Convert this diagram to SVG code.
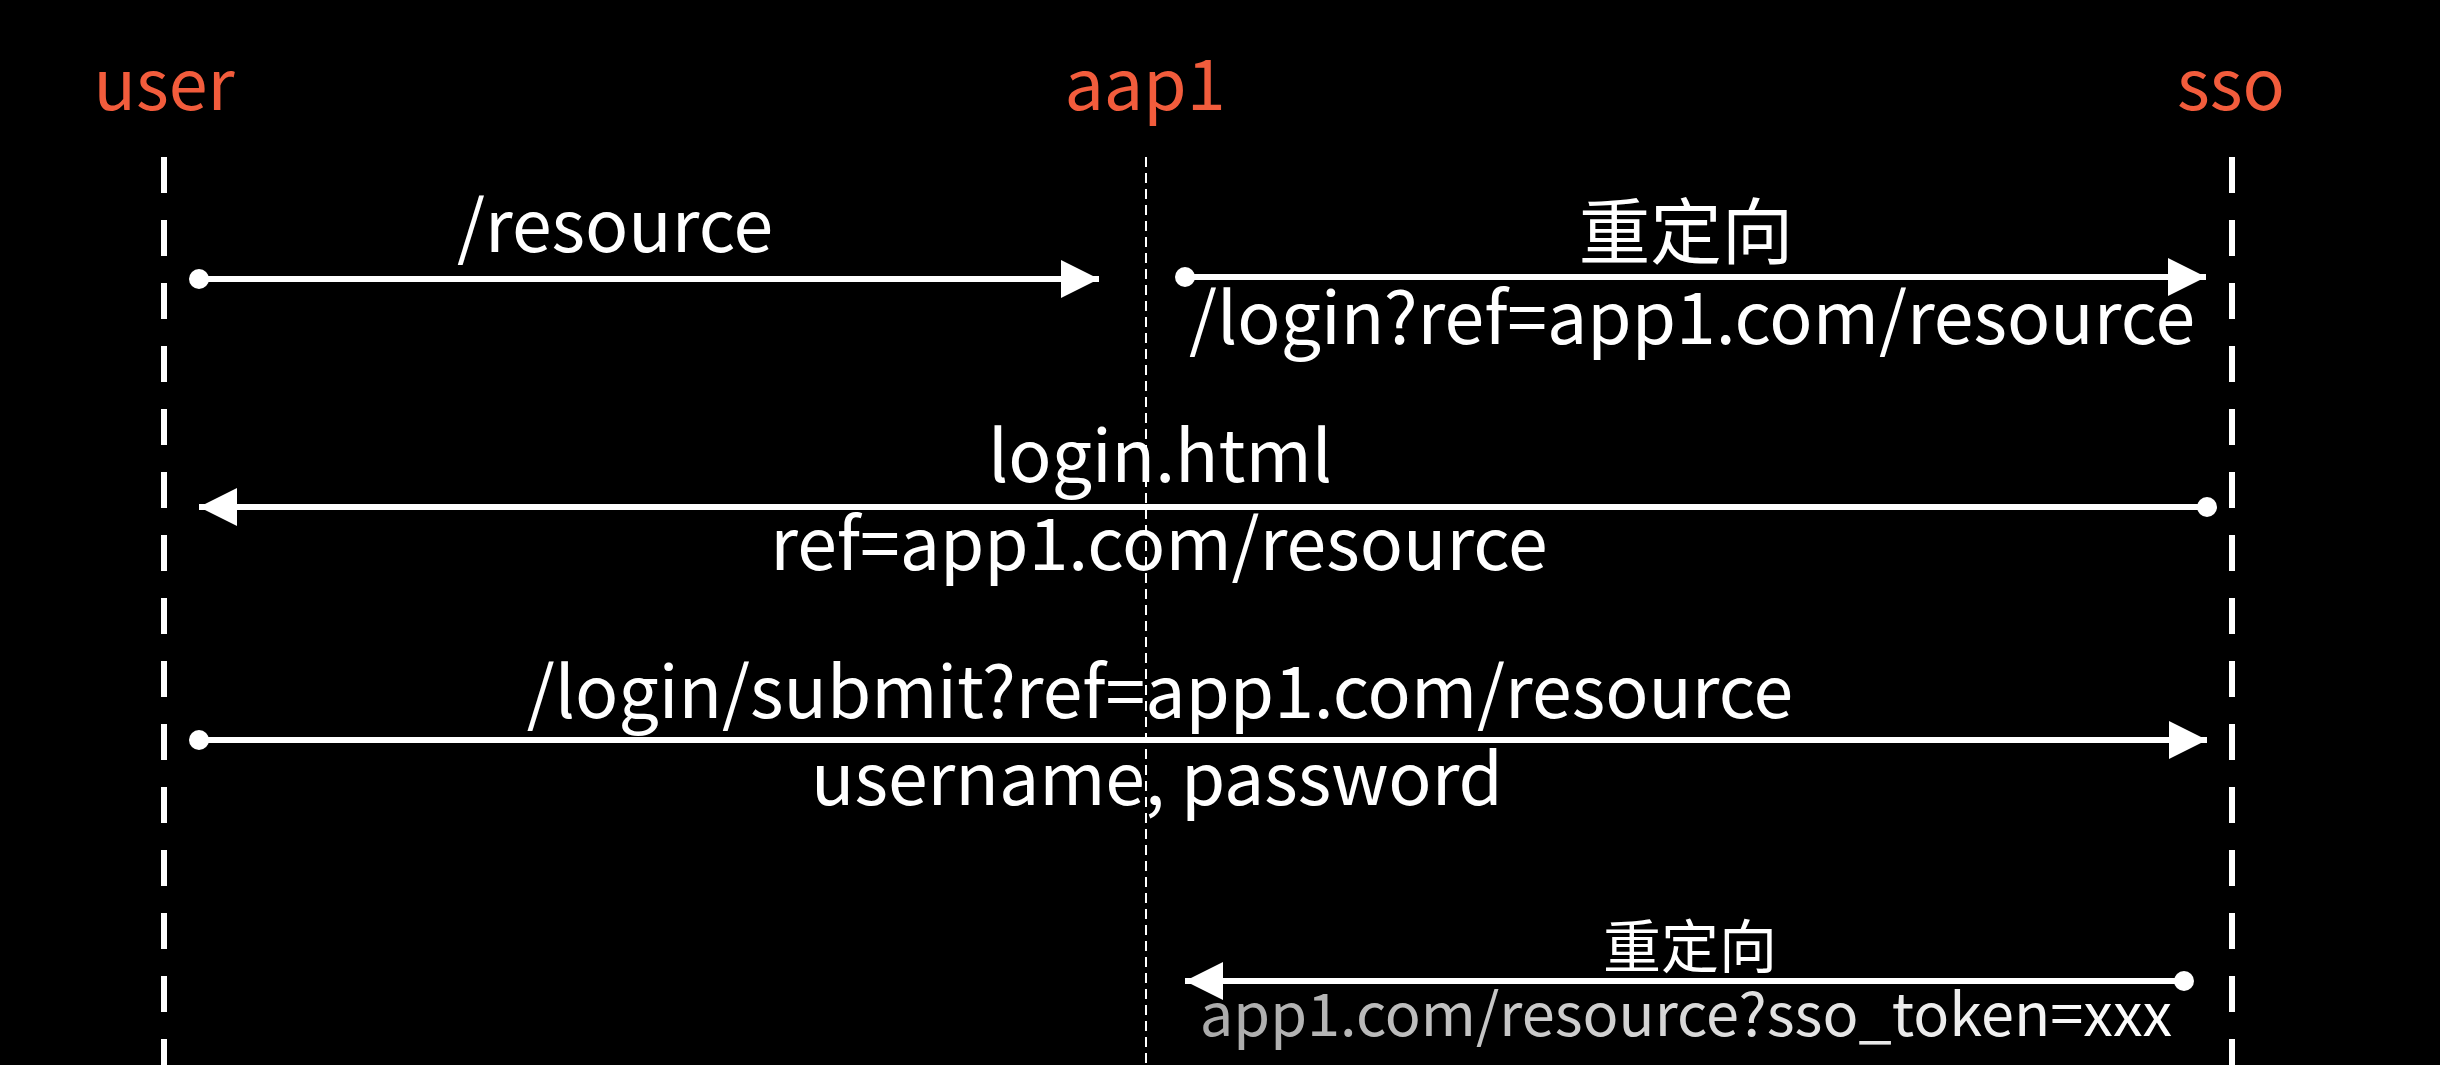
<svg xmlns="http://www.w3.org/2000/svg" width="2440" height="1065" viewBox="0 0 2440 1065">
<defs>
<style>
.title{font-family:"Noto Sans CJK SC","Noto Sans",sans-serif;font-size:70px;fill:#f25c3c;text-anchor:middle}
.lbl{font-family:"Noto Sans CJK SC","Noto Sans",sans-serif;font-size:71.5px;fill:#fff;text-anchor:middle}
.lbl2{font-family:"Noto Sans CJK SC","Noto Sans",sans-serif;font-size:58px;fill:#fff;text-anchor:middle}
.life{stroke:#fff;stroke-width:6;stroke-dasharray:36 27;fill:none}
.life-thin{stroke:#fff;stroke-width:2;stroke-dasharray:10 6;fill:none}
.msg{stroke:#fff;stroke-width:6;fill:none}
.dot{fill:#fff}
</style>
<marker id="arr" viewBox="0 0 38 38" refX="38" refY="19" markerWidth="38" markerHeight="38" markerUnits="userSpaceOnUse" orient="auto">
<path d="M0,0 L38,19 L0,38 Z" fill="#fff"/>
</marker>
<linearGradient id="fade" x1="1180" y1="0" x2="2170" y2="0" gradientUnits="userSpaceOnUse">
<stop offset="0" stop-color="#a8a8a8"/>
<stop offset="0.6" stop-color="#e0e0e0"/>
<stop offset="1" stop-color="#ffffff"/>
</linearGradient>
</defs>
<rect width="2440" height="1065" fill="#000"/>
<g id="user">
<text class="title" x="164" y="110">user</text>
<line class="life" x1="164" y1="157" x2="164" y2="1065"/>
</g>
<g id="aap1">
<text class="title" x="1145" y="110">aap1</text>
<line class="life-thin" x1="1146" y1="157" x2="1146" y2="1065"/>
</g>
<g id="sso">
<text class="title" x="2231" y="110">sso</text>
<line class="life" x1="2232" y1="157" x2="2232" y2="1065"/>
</g>
<g id="connectors">
<g id="m1">
<circle class="dot" cx="199" cy="279" r="10"/>
<line class="msg" x1="199" y1="279" x2="1099" y2="279" marker-end="url(#arr)"/>
<text class="lbl" x="615" y="252">/resource</text>
</g>
<g id="m2">
<circle class="dot" cx="1185" cy="277" r="10"/>
<line class="msg" x1="1185" y1="277" x2="2206" y2="277" marker-end="url(#arr)"/>
<text class="lbl" x="1686" y="258">重定向</text>
<text class="lbl" x="1692" y="344">/login?ref=app1.com/resource</text>
</g>
<g id="m3">
<circle class="dot" cx="2207" cy="507" r="10"/>
<line class="msg" x1="2207" y1="507" x2="199" y2="507" marker-end="url(#arr)"/>
<text class="lbl" x="1160" y="482">login.html</text>
<text class="lbl" x="1159" y="570">ref=app1.com/resource</text>
</g>
<g id="m4">
<circle class="dot" cx="199" cy="740" r="10"/>
<line class="msg" x1="199" y1="740" x2="2207" y2="740" marker-end="url(#arr)"/>
<text class="lbl" x="1160" y="718">/login/submit?ref=app1.com/resource</text>
<text class="lbl" x="1157" y="805">username, password</text>
</g>
<g id="m5">
<circle class="dot" cx="2184" cy="981" r="10"/>
<line class="msg" x1="2184" y1="981" x2="1185" y2="981" marker-end="url(#arr)"/>
<text class="lbl2" x="1690" y="968">重定向</text>
<text class="lbl2" x="1686" y="1036" style="fill:url(#fade);font-size:59.5px">app1.com/resource?sso_token=xxx</text>
</g>
</g>
</svg>
